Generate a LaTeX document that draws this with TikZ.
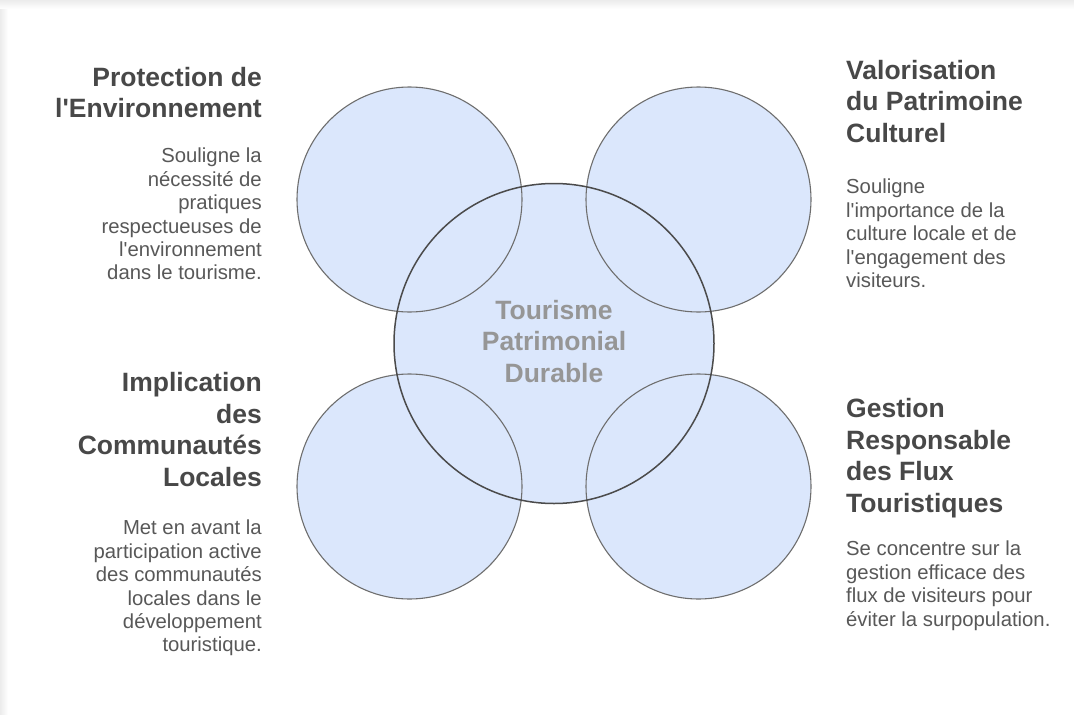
\documentclass[tikz,border=0pt]{standalone}
\usepackage{fontspec}
\setmainfont{Liberation Sans}
\definecolor{cfill}{RGB}{219,231,252}
\definecolor{csmall}{RGB}{110,110,110}
\definecolor{cbig}{RGB}{75,75,75}
\definecolor{ctitle}{RGB}{72,72,72}
\definecolor{cdesc}{RGB}{88,88,88}
\definecolor{ccenter}{RGB}{150,150,150}
\definecolor{cshadow}{RGB}{236,236,236}
\tikzset{
  smallc/.style={circle, draw=csmall, line width=1.1pt, minimum size=225pt, inner sep=0pt},
  bigc/.style={circle, draw=cbig, line width=1.5pt, minimum size=320pt, inner sep=0pt},
  ttl/.style={inner sep=0pt, text=ctitle, font=\bfseries\fontsize{26.5}{31.5}\selectfont},
  dsc/.style={inner sep=0pt, text=cdesc, font=\fontsize{20.3}{23.4}\selectfont},
  ctr/.style={inner sep=0pt, text=ccenter, align=center, font=\bfseries\fontsize{26.5}{31.5}\selectfont},
}
\begin{document}
\begin{tikzpicture}[x=1pt,y=-1pt]
\useasboundingbox (0,0) rectangle (1074,715);
\fill[white] (0,0) rectangle (1074,715);
\shade[top color=cshadow, bottom color=white] (0,0) rectangle (1074,9);
\shade[left color=cshadow, right color=white] (0,9) rectangle (8,715);
% fills
\fill[cfill] (409.5,199.5) circle[radius=112.5pt];
\fill[cfill] (698.5,199.5) circle[radius=112.5pt];
\fill[cfill] (409.5,486.5) circle[radius=112.5pt];
\fill[cfill] (698.5,486.5) circle[radius=112.5pt];
\fill[cfill] (554,343.5) circle[radius=160pt];
% outlines
\node[smallc] (tl) at (409.5,199.5) {};
\node[smallc] (tr) at (698.5,199.5) {};
\node[smallc] (bl) at (409.5,486.5) {};
\node[smallc] (br) at (698.5,486.5) {};
\node[bigc] (c) at (554,343.5) {};
\node[ctr, anchor=north] (ct) at (554,300) {Tourisme\\Patrimonial\\Durable};
% texts
\node[ttl, align=right, anchor=north east] (t1) at (262,67) {Protection de\\l\textquotesingle Environnement};
\node[dsc, align=right, anchor=north east] (d1) at (262,148) {Souligne la\\nécessité de\\pratiques\\respectueuses de\\l\textquotesingle environnement\\dans le tourisme.};
\node[ttl, align=left, anchor=north west] (t2) at (846,60) {Valorisation\\du Patrimoine\\Culturel};
\node[dsc, align=left, anchor=north west] (d2) at (846,179) {Souligne\\l\textquotesingle importance de la\\culture locale et de\\l\textquotesingle engagement des\\visiteurs.};
\node[ttl, align=right, anchor=north east] (t3) at (262,372.5) {Implication\\des\\Communautés\\Locales};
\node[dsc, align=right, anchor=north east] (d3) at (262,520) {Met en avant la\\participation active\\des communautés\\locales dans le\\développement\\touristique.};
\node[ttl, align=left, anchor=north west] (t4) at (846,398.5) {Gestion\\Responsable\\des Flux\\Touristiques};
\node[dsc, align=left, anchor=north west] (d4) at (846,541) {Se concentre sur la\\gestion efficace des\\flux de visiteurs pour\\éviter la surpopulation.};
\end{tikzpicture}
\end{document}
